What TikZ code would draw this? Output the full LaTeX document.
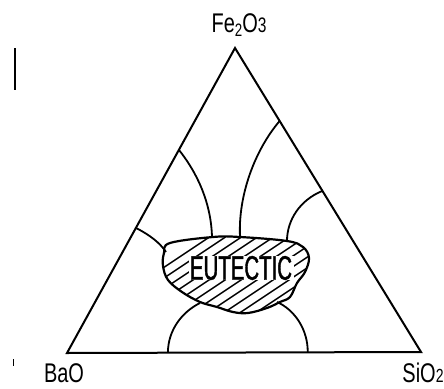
\documentclass[tikz,border=0pt]{standalone}
\usepackage{fontspec}
\usetikzlibrary{calc}
\newfontfamily\labfont[FakeStretch=0.74]{Liberation Sans}
\newfontfamily\eutfont[FakeStretch=0.6, FakeBold=1.2]{Liberation Sans}
\tikzset{
  edge/.style={line width=2pt, line join=miter},
  bound/.style={line width=1.8pt},
  blob/.style={line width=2.2pt},
  hatch/.style={line width=1.5pt},
  vlabel/.style={font=\labfont\fontsize{27}{27}\selectfont, inner sep=0pt},
}
\begin{document}
\begin{tikzpicture}[x=1pt,y=-1pt]
\useasboundingbox (0,0) rectangle (444,388);
% vertices
\coordinate (top) at (235,48);
\coordinate (left) at (67,353);
\coordinate (right) at (421,352);
% stray marks
\coordinate (m1) at (15,48);
\coordinate (m2) at (15,90);
\draw[line width=1.8pt] (m1) -- (m2);
\coordinate (m3) at (13,359);
\coordinate (m4) at (13,366);
\draw[line width=0.8pt] (m3) -- (m4);
% triangle
\draw[edge] (top) -- (left) -- (right) -- cycle;
% labels
\node[vlabel, anchor=base] (fe) at (239,32) {Fe{\fontsize{18}{18}\selectfont\raisebox{-4pt}{2}}O{\fontsize{21}{21}\selectfont 3}};
\node[vlabel, anchor=base] (ba) at (64,382) {BaO};
\node[vlabel, anchor=base] (si) at (423,382) {SiO{\fontsize{19}{19}\selectfont 2}};
% points on edges
\coordinate (l1) at ($(top)!0.334!(left)$);
\coordinate (l2) at ($(top)!0.59!(left)$);
\coordinate (r1) at ($(top)!0.24!(right)$);
\coordinate (r2) at ($(top)!0.47!(right)$);
\coordinate (b1) at ($(left)!0.285!(right)$);
\coordinate (b2) at ($(left)!0.68!(right)$);
% points on eutectic region
\coordinate (e1) at (212,237);
\coordinate (e2) at (240,237);
\coordinate (e3) at (287,241);
\coordinate (e4) at (166,252);
\coordinate (e5) at (200,303);
\coordinate (e6) at (277,302);
% boundary curves
\draw[bound] (l1) .. controls (195,170) and (211,200) .. (e1);
\draw[bound] (r1) .. controls (255,150) and (238,195) .. (e2);
\draw[bound] (r2) .. controls (300,200) and (287,220) .. (e3);
\draw[bound] (l2) .. controls (150,235) and (160,243) .. (e4);
\draw[bound] (b1) .. controls (168,330) and (182,312) .. (e5);
\draw[bound] (b2) .. controls (308,330) and (295,310) .. (e6);
% eutectic blob
\def\blobpath{plot[smooth cycle, tension=0.6] coordinates {(170,243) (213,237) (240,237) (287,241) (303,247) (309,258) (305,272) (297,283) (290,297) (280,302) (267,308) (248,313) (233,312) (217,307) (200,302) (182,292) (168,280) (163,266) (164,253)}}
\begin{scope}
  \clip \blobpath;
  \foreach \i in {-70,-54,...,200} {
    \draw[hatch] (140+\i,330) -- ++(150,-100);
  }
\end{scope}
\draw[blob] \blobpath;
\node[font=\eutfont\fontsize{34}{34}\selectfont, fill=white, inner xsep=1.5pt, inner ysep=0pt] (eut) at (241,268) {EUTECTIC};
\end{tikzpicture}
\end{document}
